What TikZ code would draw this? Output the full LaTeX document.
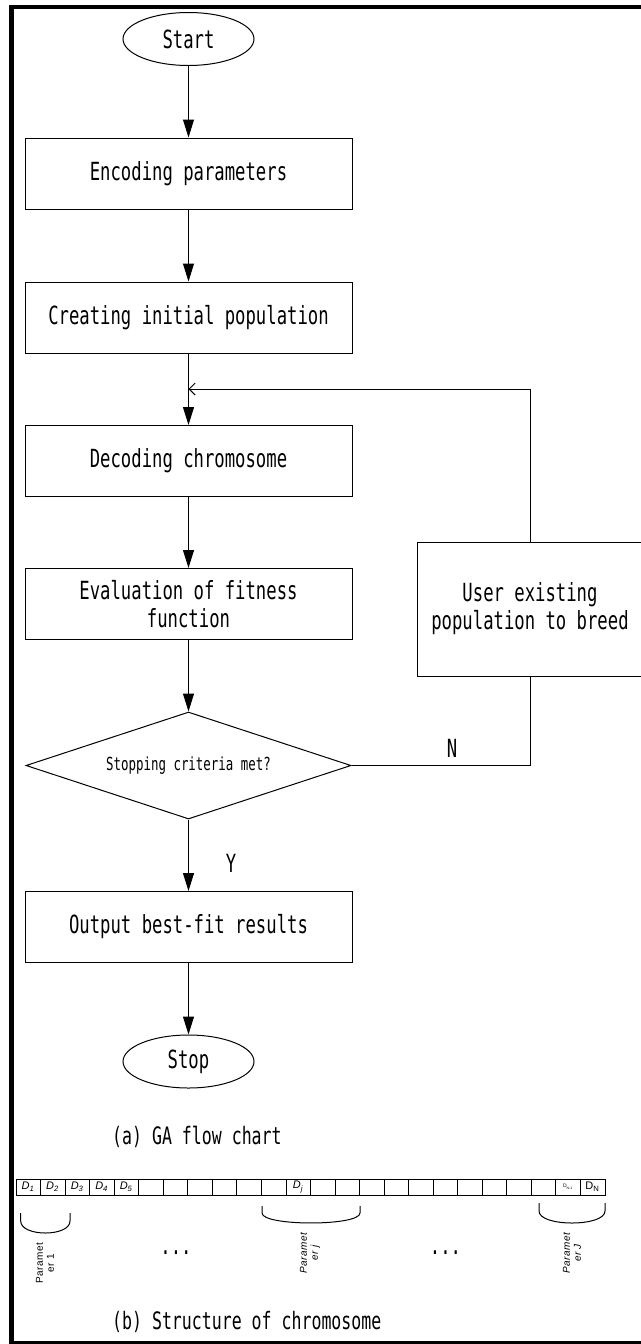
\documentclass[tikz,border=0pt]{standalone}
\usepackage{fontspec}
\usepackage{tikz}
\usetikzlibrary{shapes.geometric,arrows.meta}
\newfontfamily\flowfont[FakeStretch=0.69]{DejaVu Sans Mono}
\newfontfamily\cellfont{Liberation Sans}
\newfontfamily\parfont[LetterSpace=5]{Liberation Sans}
\tikzset{
  stepbox/.style={draw, rectangle, minimum width=163.5pt, minimum height=35.5pt, inner sep=0pt, align=center},
  term/.style={draw, ellipse, minimum width=65.5pt, minimum height=26.5pt, inner sep=0pt},
  flow/.style={-{Triangle[length=9pt,width=5.5pt]}},
  back/.style={-{Straight Barb[length=3pt,width=6pt]}},
  dlab/.style={inner sep=0pt, font=\cellfont\fontsize{5.5}{6}\selectfont\itshape},
  par/.style={rotate=90, align=center, inner sep=0pt, font=\parfont\fontsize{5}{5.5}\selectfont}
}
\begin{document}
\begin{tikzpicture}[x=0.5pt, y=-0.5pt, line width=0.5pt, font=\flowfont\fontsize{12.5}{14}\selectfont]
\useasboundingbox (0,0) rectangle (641,1344);
\draw[line width=2pt] (9.5,7) -- (641,7);
\draw[line width=2.5pt] (11.5,5) -- (11.5,1344);
\draw[line width=1.5pt] (9,1342.5) -- (641,1342.5);

% (a) flow chart
\node[term] (start) at (188.5,39) {Start};
\node[stepbox] (enc) at (188.5,173.5) {Encoding parameters};
\node[stepbox] (init) at (188.5,317.5) {Creating initial population};
\node[stepbox] (dec) at (188.5,461) {Decoding chromosome};
\node[stepbox] (eval) at (188.5,604) {Evaluation of fitness\\function};
\node[draw, diamond, shape aspect=3, minimum width=162.5pt, minimum height=53.5pt, inner sep=0pt, font=\flowfont\fontsize{9}{10}\selectfont] (crit) at (188.5,765.5) {Stopping criteria met?};
\node[stepbox] (out) at (188.5,927) {Output best-fit results};
\node[term] (stop) at (188.5,1061.5) {Stop};
\node[stepbox, minimum width=113pt, minimum height=67pt] (user) at (530,609) {User existing\\population to breed};
\coordinate (join) at (188.5,389);

\draw[flow] (start) -- (enc);
\draw[flow] (enc) -- (init);
\draw[flow] (init) -- (dec);
\draw[flow] (dec) -- (eval);
\draw[flow] (eval) -- (crit);
\draw[flow] (crit) -- (out);
\draw[flow] (out) -- (stop);
\draw[back] (user.north) |- (join);
\draw (user.south) |- (crit.east);
\node (no) at (452,748) {N};
\node (yes) at (231,863) {Y};
\node[anchor=west, font=\flowfont\fontsize{12}{14}\selectfont] (capa) at (105,1137) {(a) GA flow chart};

% (b) chromosome
\draw (16,1179) rectangle (40.5,1195);
\draw (40.5,1179) rectangle (65.1,1195);
\draw (65.1,1179) rectangle (89.6,1195);
\draw (89.6,1179) rectangle (114.2,1195);
\draw (114.2,1179) rectangle (138.7,1195);
\draw (138.7,1179) rectangle (163.2,1195);
\draw (163.2,1179) rectangle (187.8,1195);
\draw (187.8,1179) rectangle (212.3,1195);
\draw (212.3,1179) rectangle (236.9,1195);
\draw (236.9,1179) rectangle (261.4,1195);
\draw (261.4,1179) rectangle (286,1195);
\draw (286,1179) rectangle (310.5,1195);
\draw (310.5,1179) rectangle (335,1195);
\draw (335,1179) rectangle (359.6,1195);
\draw (359.6,1179) rectangle (384.1,1195);
\draw (384.1,1179) rectangle (408.7,1195);
\draw (408.7,1179) rectangle (433.2,1195);
\draw (433.2,1179) rectangle (457.8,1195);
\draw (457.8,1179) rectangle (482.3,1195);
\draw (482.3,1179) rectangle (506.8,1195);
\draw (506.8,1179) rectangle (531.4,1195);
\draw (531.4,1179) rectangle (555.9,1195);
\draw (555.9,1179) rectangle (580.5,1195);
\draw (580.5,1179) rectangle (605,1195);
\node[dlab] (d1) at (28.3,1187) {D\textsubscript{1}};
\node[dlab] (d2) at (52.8,1187) {D\textsubscript{2}};
\node[dlab] (d3) at (77.4,1187) {D\textsubscript{3}};
\node[dlab] (d4) at (101.9,1187) {D\textsubscript{4}};
\node[dlab] (d5) at (126.4,1187) {D\textsubscript{5}};
\node[dlab] (dj) at (298.2,1187) {D\textsubscript{j}};
\node[dlab, font=\cellfont\fontsize{2.5}{3}\selectfont] (dn1) at (568.2,1187) {D\textsubscript{N-1}};
\node[dlab, font=\cellfont\fontsize{5.5}{6}\selectfont] (dn) at (592.7,1187) {D\textsubscript{N}};

\draw (20.7,1213) -- (20.7,1221) .. controls (20.7,1237) and (70,1237) .. (70,1221) -- (70,1213);
\draw (262,1206) -- (262,1213) .. controls (262,1226.3) and (360,1226.3) .. (360,1213) -- (360,1206);
\draw (539,1203) -- (539,1211) .. controls (539,1227) and (605,1227) .. (605,1211) -- (605,1203);
\node[par] (p1) at (45,1263) {Paramet\\er 1};
\node[par, font=\parfont\fontsize{5}{5.5}\selectfont\itshape] (pj) at (310,1253) {Paramet\\er j};
\node[par, font=\parfont\fontsize{5}{5.5}\selectfont\itshape] (pJ) at (572,1253) {Paramet\\er J};
\node (dots1) at (176,1253) {...};
\node (dots2) at (445.5,1253) {...};
\node[anchor=west, font=\flowfont\fontsize{12}{14}\selectfont] (capb) at (105,1322) {(b) Structure of chromosome};
\end{tikzpicture}
\end{document}
